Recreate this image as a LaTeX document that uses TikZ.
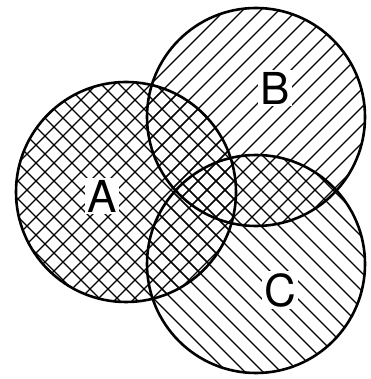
\documentclass[tikz,border=0pt]{standalone}
\usepackage{fontspec}
\setmainfont{TeX Gyre Heros}
\begin{document}
\begin{tikzpicture}[x=1pt,y=1pt,
  hatch/.style={line width=1.1pt,black},
  rim/.style={line width=2.6pt,black},
  lbl/.style={fill=white,inner sep=2pt,font=\fontsize{44}{44}\selectfont}]
\useasboundingbox (0,0) rectangle (370,379);
\fill[white] (0,0) rectangle (370,379);
\coordinate (a) at (126,187);
\coordinate (b) at (256,262);
\coordinate (c) at (256,115);
% A: cross hatch
\begin{scope}
  \clip (a) circle (110);
  \foreach \k in {-432,-414,...,828} {
    \draw[hatch] (\k,0) -- ++(420,420);
    \draw[hatch] (\k,0) -- ++(-420,420);
  }
\end{scope}
% B: north-east lines
\begin{scope}
  \clip (b) circle (109);
  \foreach \k in {-432,-414,...,828} {
    \draw[hatch] (\k,0) -- ++(420,420);
  }
\end{scope}
% C: north-west lines
\begin{scope}
  \clip (c) circle (109);
  \foreach \k in {-432,-414,...,828} {
    \draw[hatch] (\k,0) -- ++(-420,420);
  }
\end{scope}
\draw[rim] (a) circle (110);
\draw[rim] (b) circle (109);
\draw[rim] (c) circle (109);
\node[lbl] (la) at (102,183) {A};
\node[lbl] (lb) at (275,291) {B};
\node[lbl] (lc) at (280,89) {C};
\end{tikzpicture}
\end{document}
